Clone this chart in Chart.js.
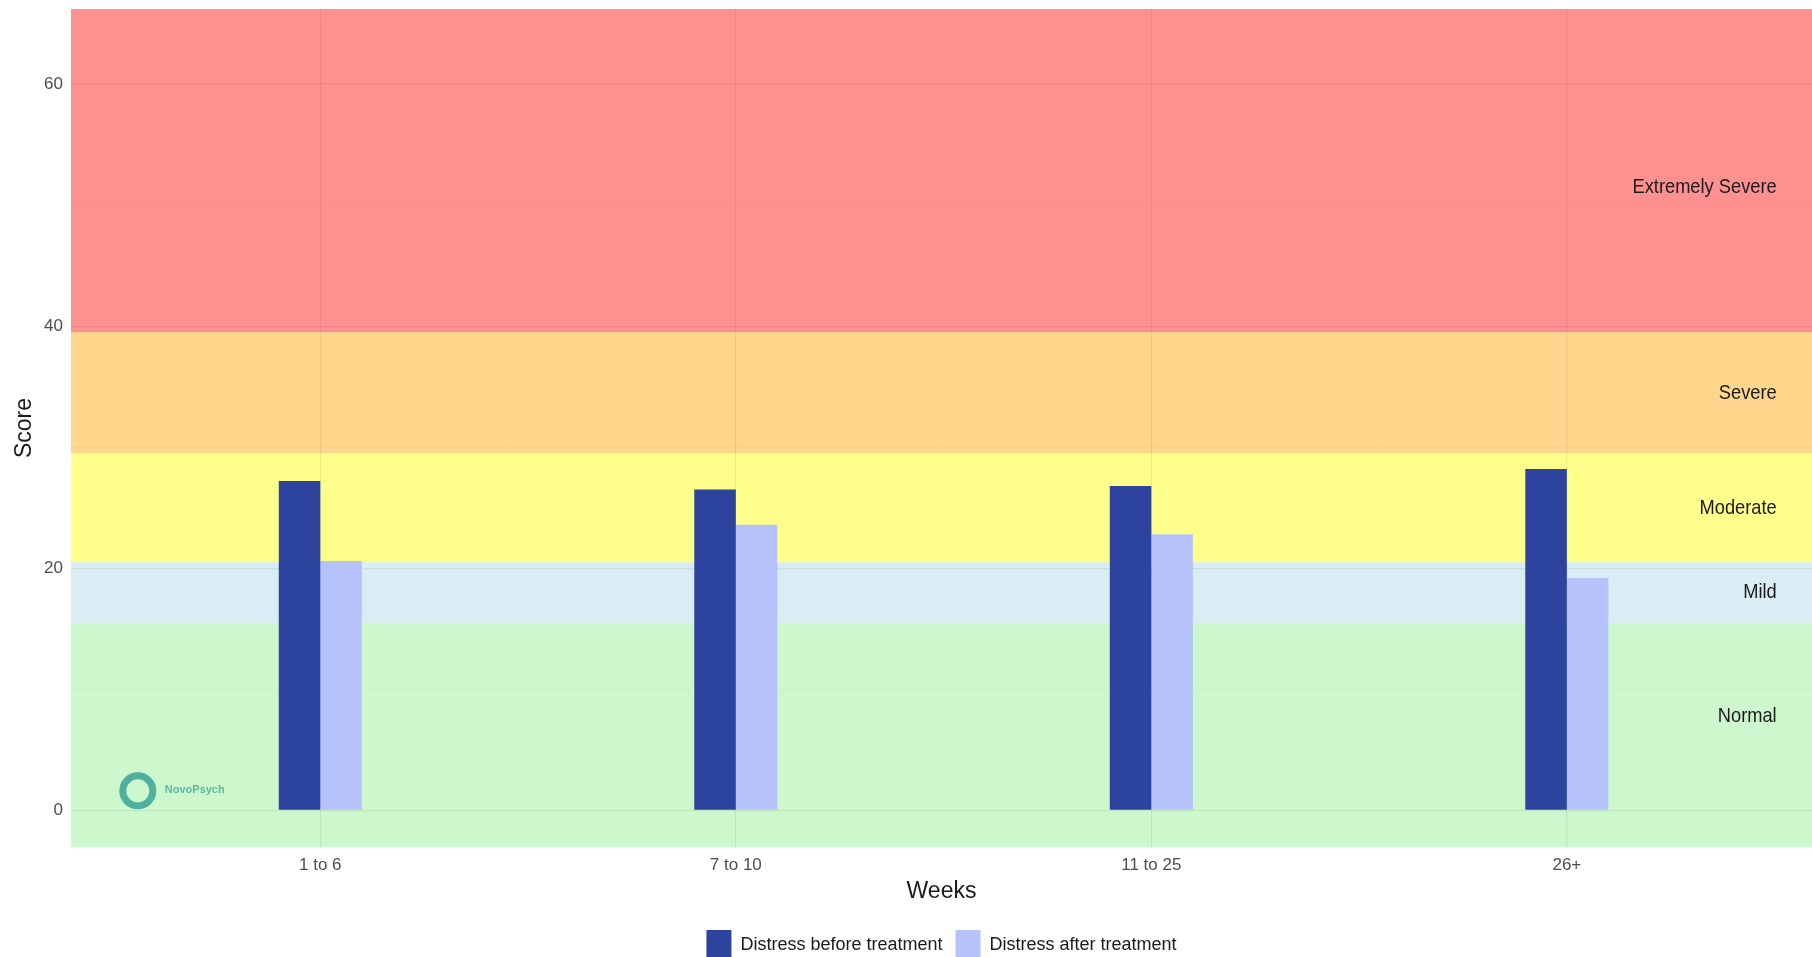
<!DOCTYPE html>
<html>
<head>
<meta charset="utf-8">
<script src="https://cdn.jsdelivr.net/npm/chart.js@4.4.1/dist/chart.umd.min.js"></script>
<style>
  html, body { margin: 0; padding: 0; background: #ffffff; overflow: hidden; }
  #wrap { position: relative; width: 1812px; height: 970px; }
</style>
</head>
<body>
<div id="wrap"><canvas id="chart"></canvas></div>
<script>
// Weeks in treatment (x categories)
const categories = ['1 to 6', '7 to 10', '11 to 25', '26+'];
// Mean distress scores
const distressBefore = [27.2, 26.5, 26.8, 28.2];
const distressAfter = [20.6, 23.6, 22.8, 19.2];
// Severity bands
const bandLabels = ['Normal', 'Mild', 'Moderate', 'Severe', 'Extremely Severe'];
const bandLower = [0, 15.5, 20.5, 29.5, 39.5];
const bandUpper = [15.5, 20.5, 29.5, 39.5, 63.5];
// Score axis gridlines; every second one is labelled
const scoreGrid = [0, 10, 20, 30, 40, 50, 60];
const scoreLabelStep = 20;

const bandColors = [
  'rgba(144, 238, 144, 0.45)',
  'rgba(173, 216, 230, 0.45)',
  'rgba(255, 255, 0, 0.45)',
  'rgba(255, 165, 0, 0.45)',
  'rgba(255, 20, 20, 0.47)'
];

const SANS = "'Liberation Sans', Arial, sans-serif";

const bandPlugin = {
  id: 'severityBands',
  beforeDraw(chart) {
    const { ctx, chartArea: { left, right, top, bottom }, scales: { y } } = chart;
    ctx.save();
    bandLabels.forEach((name, i) => {
      const yLow = i === 0 ? bottom : y.getPixelForValue(bandLower[i]);
      const yHigh = i === bandLabels.length - 1 ? top : y.getPixelForValue(bandUpper[i]);
      ctx.fillStyle = bandColors[i];
      ctx.fillRect(left, yHigh, right - left, yLow - yHigh);
    });
    ctx.restore();
  },
  beforeDatasetsDraw(chart) {
    const { ctx, chartArea: { left }, scales: { x, y } } = chart;
    // band names, right-aligned near the panel edge, in a condensed face
    const squeeze = 0.87;
    const labelX = x.getPixelForValue(4.505);
    ctx.save();
    ctx.font = '21px ' + SANS;
    ctx.fillStyle = '#1a1a1a';
    ctx.textAlign = 'right';
    ctx.textBaseline = 'middle';
    bandLabels.forEach((name, i) => {
      const ly = y.getPixelForValue((bandLower[i] + bandUpper[i]) / 2);
      ctx.save();
      ctx.translate(labelX, ly);
      ctx.scale(squeeze, 1);
      ctx.fillText(name, 0, 0);
      ctx.restore();
    });
    ctx.restore();

    // watermark
    ctx.save();
    const cx = left + 66.8;
    const cy = y.getPixelForValue(0) - 19.5;
    ctx.beginPath();
    ctx.arc(cx, cy, 15, 0, Math.PI * 2);
    ctx.lineWidth = 7;
    ctx.strokeStyle = 'rgba(55, 165, 150, 0.85)';
    ctx.stroke();
    ctx.font = 'bold 11px ' + SANS;
    ctx.fillStyle = 'rgba(70, 175, 155, 0.85)';
    ctx.textAlign = 'left';
    ctx.textBaseline = 'middle';
    ctx.fillText('NovoPsych', cx + 27, cy - 1);
    ctx.restore();
  }
};

const gridColor = (v) => (v % scoreLabelStep === 0 ? 'rgba(0,0,0,0.07)' : 'rgba(0,0,0,0.04)');

new Chart(document.getElementById('chart'), {
  type: 'bar',
  data: {
    datasets: [
      {
        label: 'Distress before treatment',
        data: categories.map((c, i) => ({ x: i + 1, y: distressBefore[i] })),
        backgroundColor: '#2d449f',
        borderWidth: 0,
        categoryPercentage: 0.2,
        barPercentage: 1.0
      },
      {
        label: 'Distress after treatment',
        data: categories.map((c, i) => ({ x: i + 1, y: distressAfter[i] })),
        backgroundColor: '#b6c3fa',
        borderWidth: 0,
        categoryPercentage: 0.2,
        barPercentage: 1.0
      }
    ]
  },
  options: {
    responsive: true,
    maintainAspectRatio: false,
    animation: false,
    layout: { padding: { top: 9, left: 0, right: 0, bottom: 0 } },
    scales: {
      x: {
        type: 'linear',
        offset: false,
        min: 0.4,
        max: 4.59,
        afterBuildTicks: (s) => { s.ticks = categories.map((c, i) => ({ value: i + 1 })); },
        afterFit: (s) => { s.height = 70; s.paddingLeft = 0; s.paddingRight = 0; },
        ticks: {
          callback: (v) => categories[v - 1] ?? '',
          color: '#4d4d4d',
          font: { family: SANS, size: 17 },
          padding: 8,
          maxRotation: 0,
          autoSkip: false
        },
        grid: { drawTicks: false, offset: false, color: 'rgba(0,0,0,0.07)', lineWidth: 1.2 },
        border: { display: false },
        title: {
          display: true,
          text: 'Weeks',
          color: '#1a1a1a',
          font: { family: SANS, size: 23 },
          padding: { top: 0, bottom: 12 }
        }
      },
      y: {
        min: -3.03,
        max: 66.2,
        afterBuildTicks: (s) => { s.ticks = scoreGrid.map((v) => ({ value: v })); },
        afterFit: (s) => { s.width = 71; s.paddingTop = 0; s.paddingBottom = 0; },
        ticks: {
          callback: (v) => (v % scoreLabelStep === 0 ? String(v) : ''),
          color: '#4d4d4d',
          font: { family: SANS, size: 17 },
          padding: 8
        },
        grid: {
          drawTicks: false,
          color: (c) => gridColor(c.tick ? c.tick.value : 0),
          lineWidth: (c) => (c.tick && c.tick.value % scoreLabelStep === 0 ? 1.2 : 0.8)
        },
        border: { display: false },
        title: {
          display: true,
          text: 'Score',
          color: '#1a1a1a',
          font: { family: SANS, size: 23 },
          padding: { top: 11, bottom: 0 }
        }
      }
    },
    plugins: {
      tooltip: { enabled: false },
      legend: {
        position: 'bottom',
        fullSize: false,
        labels: {
          boxWidth: 25,
          boxHeight: 30,
          padding: 13,
          color: '#1a1a1a',
          font: { family: SANS, size: 18 }
        }
      }
    }
  },
  plugins: [bandPlugin]
});
</script>
</body>
</html>
